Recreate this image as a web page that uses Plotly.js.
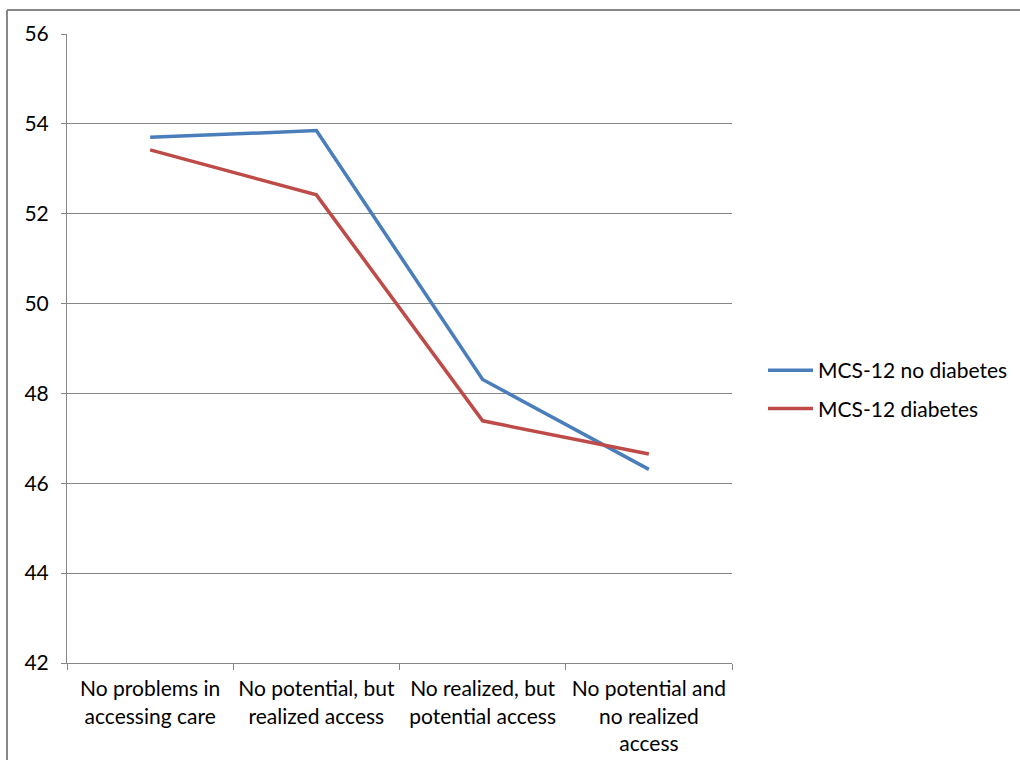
<!DOCTYPE html>
<html>
<head>
<meta charset="utf-8">
<script src="https://cdn.plot.ly/plotly-3.0.1.min.js"></script>
<style>
  html, body { margin: 0; padding: 0; background: #fff; }
  #chart { width: 1020px; height: 760px; }
</style>
</head>
<body>
<div id="chart"></div>
<script>
// Access categories along the x axis
const categories = [
  "No problems in<br>accessing care",
  "No potential, but<br>realized access",
  "No realized, but<br>potential access",
  "No potential and<br>no realized<br>access"
];

// Mean MCS-12 scores per access group
const mcsNoDiabetes = [53.70, 53.85, 48.31, 46.31];
const mcsDiabetes   = [53.42, 52.42, 47.39, 46.65];

const seriesNames = ["MCS-12 no diabetes", "MCS-12 diabetes"];

const yTicks = [42, 44, 46, 48, 50, 52, 54, 56];

const fontFamily = "Lato, 'Open Sans', sans-serif";
const fontSize = 21;
const axisGray = "#868686";

// Plot area geometry in pixels, used to place the outer frame lines
const W = 1020, H = 760;
const M = { l: 67, r: 288, t: 34, b: 97, autoexpand: false };
const pw = W - M.l - M.r, ph = H - M.t - M.b;
const px = x => (x - M.l) / pw;
const py = y => (H - M.b - y) / ph;

const traces = [
  {
    x: categories, y: mcsNoDiabetes, name: seriesNames[0],
    type: "scatter", mode: "lines", legendgroup: "a",
    line: { color: "#4A7EBB", width: 3.5 }
  },
  {
    x: categories, y: mcsDiabetes, name: seriesNames[1],
    type: "scatter", mode: "lines", legendgroup: "b",
    line: { color: "#BE4B48", width: 3.5 }
  }
];

const layout = {
  width: W, height: H,
  margin: M,
  paper_bgcolor: "#fff",
  plot_bgcolor: "#fff",
  font: { family: fontFamily, size: fontSize, color: "#000" },
  showlegend: true,
  legend: {
    x: px(763), y: py(350), xanchor: "left", yanchor: "top",
    font: { family: fontFamily, size: fontSize, color: "#000" },
    bgcolor: "rgba(0,0,0,0)", borderwidth: 0,
    traceorder: "grouped", tracegroupgap: 8,
    itemwidth: 45
  },
  xaxis: {
    type: "category",
    range: [-0.5, 3.5],
    showgrid: false,
    showline: true, linecolor: axisGray, linewidth: 1,
    ticks: "outside", tickson: "boundaries", ticklen: 6, tickcolor: axisGray,
    tickangle: 0,
    ticklabelstandoff: 7,
    tickfont: { family: fontFamily, size: fontSize, color: "#000" },
    fixedrange: true
  },
  yaxis: {
    range: [42, 56],
    tickvals: yTicks,
    ticktext: yTicks.map(String),
    showgrid: true, gridcolor: axisGray, gridwidth: 1,
    zeroline: false,
    showline: true, linecolor: axisGray, linewidth: 1,
    ticks: "outside", ticklen: 5, tickcolor: axisGray,
    tickfont: { family: fontFamily, size: fontSize, color: "#000" },
    ticklabelstandoff: 8,
    fixedrange: true
  },
  shapes: [
    // outer frame: top and left edges
    { type: "line", xref: "paper", yref: "paper",
      x0: px(7), x1: px(1020), y0: py(10), y1: py(10),
      line: { color: "#888", width: 2 } },
    { type: "line", xref: "paper", yref: "paper",
      x0: px(7), x1: px(7), y0: py(10), y1: py(760),
      line: { color: "#888", width: 2 } }
  ]
};

Plotly.newPlot("chart", traces, layout, { displayModeBar: false, staticPlot: true });
</script>
</body>
</html>
